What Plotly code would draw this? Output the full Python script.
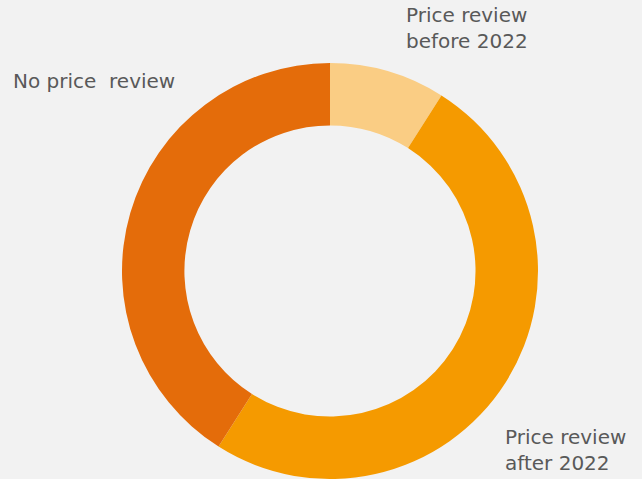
import plotly.graph_objects as go

# Data
labels = ['Price review before 2022', 'Price review after 2022', 'No price review']
values = [9, 50, 41]
colors = ['#FACD84', '#F59A00', '#E46C0A']

fig = go.Figure(go.Pie(
    labels=labels, values=values,
    hole=0.70, sort=False, direction='clockwise', rotation=0,
    marker=dict(colors=colors, line=dict(width=0)),
    textinfo='none', hoverinfo='label+percent',
    domain=dict(x=[(330 - 208) / 642, (330 + 208) / 642], y=[1 - 479 / 479, 1 - 63 / 479]),
))

# Etiketes
txt = dict(family='DejaVu Sans, sans-serif', size=20, color='#595959')
fig.add_annotation(x=404 / 642, y=1 - 1 / 479, xref='paper', yref='paper', xanchor='left', yanchor='top',
                   text='Price review<br>before 2022', showarrow=False, align='left', font=txt)
fig.add_annotation(x=11 / 642, y=1 - 67 / 479, xref='paper', yref='paper', xanchor='left', yanchor='top',
                   text='No price  review', showarrow=False, align='left', font=txt)
fig.add_annotation(x=503 / 642, y=1 - 423 / 479, xref='paper', yref='paper', xanchor='left', yanchor='top',
                   text='Price review<br>after 2022', showarrow=False, align='left', font=txt)

fig.update_layout(
    width=642, height=479, margin=dict(l=0, r=0, t=0, b=0),
    paper_bgcolor='#F2F2F2', plot_bgcolor='#F2F2F2', showlegend=False,
)
fig.write_html('out.html', config={'displayModeBar': False},
               post_script="document.body.style.margin='0';")
